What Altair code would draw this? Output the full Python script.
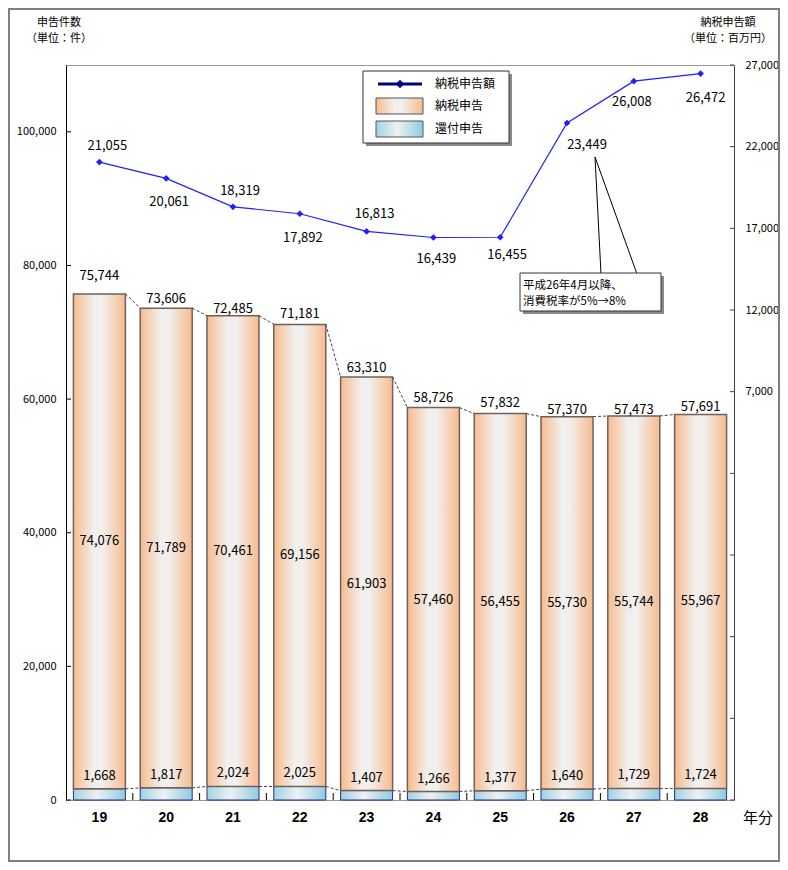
import altair as alt
import pandas as pd

# ---------------- data ----------------
years = ["19", "20", "21", "22", "23", "24", "25", "26", "27", "28"]
refund = [1668, 1817, 2024, 2025, 1407, 1266, 1377, 1640, 1729, 1724]
tax = [74076, 71789, 70461, 69156, 61903, 57460, 56455, 55730, 55744, 55967]
amount = [21055, 20061, 18319, 17892, 16813, 16439, 16455, 23449, 26008, 26472]
left_ticks = [0, 20000, 40000, 60000, 80000, 100000]
right_ticks = [-18000, -13000, -8000, -3000, 2000, 7000, 12000, 17000, 22000, 27000]
series_names = ["納税申告額", "納税申告", "還付申告"]
left_title = ["申告件数", "（単位：件）"]
right_title = ["納税申告額", "（単位：百万円）"]
x_title = "年分"
note_lines = ["平成26年4月以降、", "消費税率が5%→8%"]

# ---------------- layout ----------------
W, H = 668, 735
BAR = 52
STEP = W / len(years)
HALF = BAR / 2 / STEP
L_DOM = [0, 110000]
R_DOM = [-18000, 27000]
amount_label_dx = [8, 3, 7, 3, 8, 3, 7, 20, -2, 5]
amount_label_dy = [-16, 24, -16, 24, -17, 22, 18, 22, 21, 24]
total_label_dy = [-18, -9, -7, -10, -9, -10, -11, -7, -6, -8]

JP = "Noto Sans CJK JP"
NUMF = "Noto Sans CJK JP"

df = pd.DataFrame({"idx": list(range(len(years))), "year": years,
                   "refund": refund, "tax": tax, "amount": amount})
df["total"] = df["refund"] + df["tax"]
df["mid"] = df["refund"] + df["tax"] / 2
df["lx"] = df["idx"] + pd.Series(amount_label_dx) / STEP
df["ly"] = df["amount"] - pd.Series(amount_label_dy) * (R_DOM[1] - R_DOM[0]) / H
df["ty"] = df["total"] - pd.Series(total_label_dy) * (L_DOM[1] - L_DOM[0]) / H

seg_rows = []
for col in ["total", "refund"]:
    vals = list(df[col])
    for i in range(len(vals) - 1):
        seg_rows.append({"x": i + HALF, "x2": i + 1 - HALF, "y": vals[i], "y2": vals[i + 1]})
seg = pd.DataFrame(seg_rows)

XS = alt.Scale(domain=[-0.5, len(years) - 0.5], nice=False, zero=False, padding=0)
LS = alt.Scale(domain=L_DOM, nice=False, padding=0)
RS = alt.Scale(domain=R_DOM, nice=False, zero=False, padding=0)

x_axis = alt.Axis(values=list(range(len(years))), labels=False, ticks=False,
                  domainColor="black", grid=False, title=None)
left_axis = alt.Axis(orient="left", values=left_ticks,
                     labelExpr="format(datum.value, ',')", ticks=False,
                     labelPadding=10, labelFontSize=11, labelFont=NUMF, labelColor="black",
                     domainColor="black", grid=False, title=None)
right_axis = alt.Axis(orient="right", values=right_ticks,
                      labelExpr="datum.value >= 7000 ? format(datum.value, ',') : ''",
                      ticks=False, labelPadding=11, labelFontSize=11, labelFont=NUMF,
                      labelColor="black", domainColor="#404040", grid=False, title=None)

orange = alt.Gradient(gradient="linear", x1=0, x2=1, y1=0, y2=0, stops=[
    alt.GradientStop(offset=0, color="#F7BB8F"),
    alt.GradientStop(offset=0.4, color="#F2F0EE"),
    alt.GradientStop(offset=0.55, color="#F2F0EE"),
    alt.GradientStop(offset=1, color="#F7BB8F")])
blue = alt.Gradient(gradient="linear", x1=0, x2=1, y1=0, y2=0, stops=[
    alt.GradientStop(offset=0, color="#9FD3E2"),
    alt.GradientStop(offset=0.45, color="#EEF1F2"),
    alt.GradientStop(offset=1, color="#8ECCDE")])

base = alt.Chart(df)

refund_bars = base.mark_bar(size=BAR, fill=blue, stroke="#2a2a8c", strokeWidth=1).encode(
    x=alt.X("idx:Q", scale=XS, axis=x_axis),
    y=alt.Y("refund:Q", scale=LS, axis=left_axis),
    y2=alt.datum(0))
tax_bars = base.mark_bar(size=BAR, fill=orange, stroke="#6e625a", strokeWidth=1.5).encode(
    x=alt.X("idx:Q", scale=XS, axis=None),
    y=alt.Y("total:Q", scale=LS, axis=None),
    y2="refund:Q")
dashes = alt.Chart(seg).mark_rule(color="#444444", strokeDash=[3, 2], strokeWidth=1).encode(
    x=alt.X("x:Q", scale=XS, axis=None), x2="x2:Q",
    y=alt.Y("y:Q", scale=LS, axis=None), y2="y2:Q")

txt = dict(font=NUMF, fontSize=13, color="black", baseline="middle", align="center")
total_lbl = base.mark_text(**txt).encode(
    x=alt.X("idx:Q", scale=XS, axis=None), y=alt.Y("ty:Q", scale=LS, axis=None),
    text=alt.Text("total:Q", format=","))
tax_lbl = base.mark_text(**txt).encode(
    x=alt.X("idx:Q", scale=XS, axis=None), y=alt.Y("mid:Q", scale=LS, axis=None),
    text=alt.Text("tax:Q", format=","))
refund_lbl = base.mark_text(dy=-13, **txt).encode(
    x=alt.X("idx:Q", scale=XS, axis=None), y=alt.Y("refund:Q", scale=LS, axis=None),
    text=alt.Text("refund:Q", format=","))
year_lbl = base.mark_text(font="Liberation Sans", fontSize=14, fontWeight="bold",
                          color="black", baseline="middle", align="center").encode(
    x=alt.X("idx:Q", scale=XS, axis=None), y=alt.value(H + 18), text="year:N")

lt = alt.Chart(pd.DataFrame({"v": left_ticks})).mark_rule(color="black").encode(
    x=alt.value(0), x2=alt.value(5), y=alt.Y("v:Q", scale=LS, axis=None))
xt = alt.Chart(pd.DataFrame({"b": [i + 0.5 for i in range(len(years) - 1)]})).mark_rule(color="black").encode(
    x=alt.X("b:Q", scale=XS, axis=None), y=alt.value(H - 7), y2=alt.value(H))

line = base.mark_line(color="#2020ff", strokeWidth=1.2).encode(
    x=alt.X("idx:Q", scale=XS, axis=None),
    y=alt.Y("amount:Q", scale=RS, axis=right_axis))
pts = base.mark_point(shape="diamond", filled=True, size=45, color="#2020ff", opacity=1).encode(
    x=alt.X("idx:Q", scale=XS, axis=None), y=alt.Y("amount:Q", scale=RS, axis=None))
amt_lbl = base.mark_text(**txt).encode(
    x=alt.X("lx:Q", scale=XS, axis=None), y=alt.Y("ly:Q", scale=RS, axis=None),
    text=alt.Text("amount:Q", format=","))
rt = alt.Chart(pd.DataFrame({"v": right_ticks})).mark_rule(color="#404040").encode(
    x=alt.value(W - 4), x2=alt.value(W), y=alt.Y("v:Q", scale=RS, axis=None))

# ---------------- annotations ----------------
one = pd.DataFrame({"k": [0]})


def label(t, x, y, size=12, weight="normal", align="center", font=JP):
    return alt.Chart(pd.DataFrame({"t": [t]})).mark_text(
        fontSize=size, font=font, fontWeight=weight, align=align, baseline="middle",
        color="black").encode(x=alt.value(x), y=alt.value(y), text="t:N")


def box(x, x2, y, y2, fill, stroke=None, sw=1):
    kw = dict(fill=fill)
    if stroke:
        kw.update(stroke=stroke, strokeWidth=sw)
    return alt.Chart(one).mark_rect(**kw).encode(
        x=alt.value(x), x2=alt.value(x2), y=alt.value(y), y2=alt.value(y2))


def seg_line(x, y, x2, y2, color="black", sw=1):
    return alt.Chart(one).mark_rule(color=color, strokeWidth=sw).encode(
        x=alt.value(x), x2=alt.value(x2), y=alt.value(y), y2=alt.value(y2))


frame = alt.Chart(one).mark_rect(fill="transparent", stroke="#808080", strokeWidth=2).encode(
    x=alt.value(-57), x2=alt.value(W + 45), y=alt.value(-56), y2=alt.value(H + 61))

titles = [
    label(left_title[0], -7, -42, size=11),
    label(left_title[1], -7, -26, size=11),
    label(right_title[0], 662, -42, size=11),
    label(right_title[1], 662, -26, size=11),
    label(x_title, 692, 753, size=15),
]

legend = [
    box(300, 446, 9, 81, "#8a8a8a"),
    box(297, 443, 6, 78, "white", "#333333", 1),
    seg_line(312, 19, 356, 19, color="#000080", sw=3),
    alt.Chart(one).mark_point(shape="diamond", filled=True, size=70, color="#000080", opacity=1).encode(
        x=alt.value(334), y=alt.value(19)),
    box(310, 357, 33, 49, orange, "#555555", 1),
    box(310, 357, 56, 72, blue, "#555555", 1),
    label(series_names[0], 369, 19, align="left"),
    label(series_names[1], 369, 41, align="left"),
    label(series_names[2], 369, 64, align="left"),
]

callout = [
    seg_line(529, 92, 535, 209),
    seg_line(529, 92, 571, 209),
    box(457, 598, 211, 249, "#8a8a8a"),
    box(454, 595, 208, 246, "white", "#333333", 1),
    label(note_lines[0], 457, 221, size=11.5, align="left"),
    label(note_lines[1], 457, 237, size=11.5, align="left"),
]

chart = alt.layer(
    refund_bars, line, tax_bars, dashes, total_lbl, tax_lbl, refund_lbl, year_lbl, lt, xt,
    pts, amt_lbl, rt, frame, *titles, *legend, *callout
).resolve_scale(y="independent").resolve_axis(y="independent").properties(
    width=W, height=H,
    autosize=alt.AutoSizeParams(type="none"),
    padding={"left": 58, "top": 57, "right": 46, "bottom": 62},
).configure_view(stroke="#999999", strokeWidth=1)

chart.save("out.html", embed_options={"renderer": "svg", "actions": False})
